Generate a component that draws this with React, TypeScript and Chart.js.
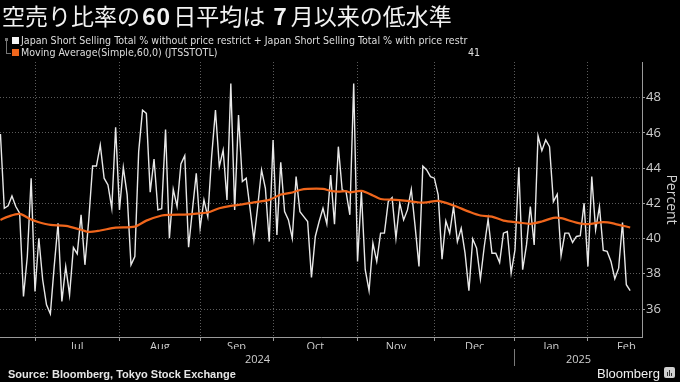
import React, { useEffect, useRef } from 'react';
import { Chart, registerables } from 'chart.js';

Chart.register(...registerables);

// ---- data (trading-day index based) ----
const shortRatio = [
  45.94, 41.72, 41.86, 42.42, 41.82, 41.44, 36.71, 38.98, 43.43, 37.0,
  40.02, 37.66, 36.24, 35.73, 38.42, 40.87, 36.43, 38.42, 36.8, 39.49,
  39.13, 41.35, 38.51, 41.06, 44.12, 44.12, 45.32, 43.43, 43.05, 41.72,
  46.32, 41.63, 44.05, 42.48, 38.51, 38.98, 44.94, 47.3, 47.11, 42.63,
  44.52, 41.63, 41.7, 46.2, 40.02, 42.8, 41.82, 44.24, 44.71, 39.51,
  41.63, 43.71, 40.59, 42.2, 41.25, 44.65, 47.3, 44.09, 45.03, 42.2,
  48.81, 41.63, 47.02, 43.24, 43.43, 41.72, 39.93, 41.82, 43.9, 42.86,
  39.83, 45.6, 40.21, 44.33, 41.53, 41.06, 40.02, 43.52, 41.53, 41.25,
  40.97, 37.79, 40.12, 40.97, 41.72, 40.84, 43.61, 40.82, 45.22, 42.76,
  42.67, 41.35, 48.81, 38.7, 42.67, 38.23, 37.04, 39.74, 38.7, 40.31,
  40.31, 42.1, 42.33, 40.02, 42.01, 41.06, 41.63, 42.8, 40.68, 38.42,
  44.12, 43.9, 43.52, 43.43, 42.48, 38.83, 41.0, 40.31, 41.82, 39.83,
  40.59, 39.17, 37.04, 39.98, 39.46, 37.72, 39.55, 41.1, 39.17, 39.17,
  38.64, 40.31, 40.4, 38.04, 39.36, 44.05, 38.23, 39.64, 41.82, 39.64,
  45.83, 44.99, 45.6, 45.22, 42.1, 42.52, 39.02, 40.31, 40.31, 39.78,
  40.12, 40.16, 42.01, 38.42, 43.52, 40.5, 41.82, 39.32, 39.27, 38.7,
  37.72, 38.32, 40.91, 37.38, 37.04,
];

const maIndex = [
  0, 2, 5, 8, 10, 13, 17, 21, 23, 26, 30, 35, 38, 42, 44, 49, 52, 54, 57, 60,
  62, 66, 70, 73, 76, 78, 80, 84, 86, 88, 90, 91, 94, 97, 99, 103, 106, 109, 111, 114,
  118, 122, 125, 128, 131, 135, 138, 141, 144, 146, 150, 153, 157, 160, 164,
];
const maValue = [
  41.06, 41.25, 41.4, 41.08, 40.93, 40.78, 40.72, 40.5, 40.38, 40.46, 40.62, 40.68, 41.02, 41.31, 41.35, 41.38, 41.44, 41.48, 41.72, 41.86,
  41.91, 42.06, 42.2, 42.5, 42.62, 42.76, 42.82, 42.82, 42.71, 42.67, 42.7, 42.63, 42.71, 42.45, 42.25, 42.2, 42.14, 42.05, 42.06, 42.14,
  41.88, 41.53, 41.31, 41.25, 41.02, 40.91, 40.84, 40.97, 41.18, 41.16, 40.91, 40.82, 40.93, 40.84, 40.63,
];

const monthStarts = [9, 31, 52, 71, 93, 113, 134, 153];
const monthEnd = 173;
const monthLabels = ['Jul', 'Aug', 'Sep', 'Oct', 'Nov', 'Dec', 'Jan', 'Feb'];
const yearLabels = ['2024', '2025'];
const yearBreak = 134;
const yTicks = [36, 38, 40, 42, 44, 46, 48];

const titleText1 = '空売り比率の';
const titleNum1 = '60';
const titleText2 = '日平均は';
const titleNum2 = '7';
const titleText3 = '月以来の低水準';
const legend1 = 'Japan Short Selling Total % without price restrict + Japan Short Selling Total % with price restr';
const legend2 = 'Moving Average(Simple,60,0) (JTSSTOTL)';
const legend2Last = '41';
const sourceText = 'Source: Bloomberg, Tokyo Stock Exchange';

// ---- styling ----
const X_MIN = -0.115;
const X_MAX = 167.08;
const Y_MIN = 34.41;
const Y_MAX = 50.03;
const WHITE = '#e8e8e8';
const ORANGE = '#f0661c';
const GRID = '#5c5c5c';
const AXIS = '#9a9a9a';
const LABEL = '#cfcfcf';
const AXFONT = "'Open Sans', 'Liberation Sans', sans-serif";
const NARROW = "'Liberation Sans Narrow', 'DejaVu Sans Condensed', 'Arial Narrow', 'Liberation Sans', sans-serif";

export default function App() {
  const ref = useRef<HTMLCanvasElement | null>(null);

  useEffect(() => {
    const canvas = ref.current;
    if (!canvas) return;
    const monthMids = monthStarts.map((s, i) => (s + (i + 1 < monthStarts.length ? monthStarts[i + 1] : monthEnd)) / 2);
    const yearPos = [(X_MIN + yearBreak) / 2, yearBreak, (yearBreak + X_MAX) / 2];

    const chart = new Chart(canvas, {
      type: 'line',
      data: {
        datasets: [
          {
            label: legend1,
            data: shortRatio.map((v, i) => ({ x: i, y: v })),
            borderColor: WHITE,
            borderWidth: 1.4,
            pointRadius: 0,
            tension: 0,
            order: 2,
          },
          {
            label: legend2,
            data: maIndex.map((x, i) => ({ x, y: maValue[i] })),
            borderColor: ORANGE,
            borderWidth: 2.2,
            pointRadius: 0,
            tension: 0.3,
            order: 1,
          },
        ],
      },
      options: {
        animation: false,
        responsive: false,
        maintainAspectRatio: false,
        layout: { padding: { top: 62, left: 0, right: 0, bottom: 13 } },
        plugins: {
          legend: { display: false },
          tooltip: { enabled: false },
          title: { display: false },
        },
        scales: {
          x: {
            type: 'linear',
            position: 'bottom',
            weight: 0,
            min: X_MIN,
            max: X_MAX,
            bounds: 'data',
            afterBuildTicks: (s: any) => {
              s.ticks = monthStarts.map((v) => ({ value: v }));
            },
            afterFit: (s: any) => {
              s.height = 4;
              s.paddingLeft = 0;
              s.paddingRight = 0;
            },
            ticks: { display: false },
            grid: {
              display: true,
              drawOnChartArea: true,
              drawTicks: true,
              tickLength: 4,
              color: GRID,
              tickColor: AXIS,
              lineWidth: 1,
            },
            border: { display: true, color: AXIS, width: 1, dash: [1, 2] },
          },
          xm: {
            type: 'linear',
            position: 'bottom',
            weight: 1,
            min: X_MIN,
            max: X_MAX,
            bounds: 'data',
            afterBuildTicks: (s: any) => {
              s.ticks = monthMids.map((v) => ({ value: v }));
            },
            afterFit: (s: any) => {
              s.height = 8;
              s.paddingLeft = 0;
              s.paddingRight = 0;
            },
            ticks: {
              autoSkip: false,
              maxRotation: 0,
              minRotation: 0,
              padding: -1,
              color: LABEL,
              font: { family: AXFONT, size: 11 },
              callback: (_v: any, i: number) => monthLabels[i],
            },
            grid: { display: false, drawTicks: false },
            border: { display: false },
          },
          xy: {
            type: 'linear',
            position: 'bottom',
            weight: 2,
            min: X_MIN,
            max: X_MAX,
            bounds: 'data',
            afterBuildTicks: (s: any) => {
              s.ticks = yearPos.map((v) => ({ value: v }));
            },
            afterFit: (s: any) => {
              s.height = 20;
              s.paddingLeft = 0;
              s.paddingRight = 0;
            },
            ticks: {
              autoSkip: false,
              maxRotation: 0,
              minRotation: 0,
              padding: -13,
              color: LABEL,
              font: { family: AXFONT, size: 11 },
              callback: (_v: any, i: number) => (i === 0 ? yearLabels[0] : i === 2 ? yearLabels[1] : ''),
            },
            grid: {
              display: true,
              drawOnChartArea: false,
              drawTicks: true,
              tickLength: 17,
              tickColor: (c: any) => (c.index === 1 ? '#7a7a7a' : 'rgba(0,0,0,0)'),
              color: 'rgba(0,0,0,0)',
            },
            border: { display: false },
          },
          y: {
            type: 'linear',
            position: 'right',
            min: Y_MIN,
            max: Y_MAX,
            bounds: 'data',
            afterBuildTicks: (s: any) => {
              s.ticks = yTicks.map((v) => ({ value: v }));
            },
            afterFit: (s: any) => {
              s.width = 38;
              s.paddingTop = 0;
              s.paddingBottom = 0;
            },
            ticks: {
              color: LABEL,
              padding: 1,
              font: { family: AXFONT, size: 13 },
              callback: (v: any) => String(v),
            },
            grid: {
              color: GRID,
              drawTicks: true,
              tickLength: 3,
              tickColor: AXIS,
              lineWidth: 1,
            },
            border: { display: true, color: AXIS, width: 1, dash: [1, 2] },
            title: {
              display: true,
              text: 'Percent',
              color: LABEL,
              font: { family: AXFONT, size: 14 },
              padding: { top: 1, bottom: 0 },
            },
          },
        },
      },
    } as any);
    return () => chart.destroy();
  }, []);

  const box = (color: string, top: number) => (
    <div style={{ position: 'absolute', left: 12, top, width: 7, height: 7, background: color }} />
  );

  return (
    <div style={{ position: 'fixed', left: 0, top: 0, width: 680, height: 382, background: '#000', overflow: 'hidden' }}>
      <canvas ref={ref} width={680} height={382} style={{ position: 'absolute', left: 0, top: 0, width: 680, height: 382 }} />
      <div
        style={{
          position: 'absolute', left: 2, top: 1, color: '#f2f2f2', whiteSpace: 'nowrap',
          fontFamily: "'Noto Sans CJK JP', 'Noto Sans', sans-serif", fontSize: 23, lineHeight: '29px',
        }}
      >
        {titleText1}
        <b style={{ margin: '0 2px 0 2px', letterSpacing: 1 }}>{titleNum1}</b>
        {titleText2}
        <b style={{ margin: '0 4px 0 8px' }}>{titleNum2}</b>
        {titleText3}
      </div>
      <div style={{ position: 'absolute', left: 5, top: 38, width: 3, height: 3, background: '#777' }} />
      <div style={{ position: 'absolute', left: 6, top: 41, width: 4, height: 12, borderLeft: '1px solid #777', borderBottom: '1px solid #777' }} />
      {box('#f5f5f5', 37)}
      {box(ORANGE, 49)}
      <div style={{ position: 'absolute', left: 21, top: 34, color: '#dedede', fontFamily: NARROW, fontSize: 10.6, lineHeight: '13px', whiteSpace: 'nowrap' }}>
        {legend1}
      </div>
      <div style={{ position: 'absolute', left: 21, top: 46, color: '#dedede', fontFamily: NARROW, fontSize: 10.6, lineHeight: '13px', whiteSpace: 'nowrap' }}>
        {legend2}
      </div>
      <div style={{ position: 'absolute', left: 468, top: 46, color: '#dedede', fontFamily: NARROW, fontSize: 10.6, lineHeight: '13px' }}>
        {legend2Last}
      </div>
      <div style={{ position: 'absolute', left: 8, top: 367, color: '#e6e6e6', fontFamily: "'Liberation Sans', 'DejaVu Sans', sans-serif", fontWeight: 700, fontSize: 11, lineHeight: '14px', whiteSpace: 'nowrap' }}>
        {sourceText}
      </div>
      <div style={{ position: 'absolute', left: 597, top: 366, color: '#f0f0f0', fontFamily: "'Liberation Sans', 'DejaVu Sans', sans-serif", fontSize: 13, lineHeight: '16px', whiteSpace: 'nowrap' }}>
        Bloomberg
      </div>
      <div style={{ position: 'absolute', left: 664, top: 367, width: 11, height: 11, background: '#cfcfcf', borderRadius: 2 }}>
        <div style={{ position: 'absolute', left: 3, top: 5, width: 1, height: 4, background: '#333' }} />
        <div style={{ position: 'absolute', left: 5, top: 3, width: 1, height: 6, background: '#333' }} />
        <div style={{ position: 'absolute', left: 7, top: 6, width: 1, height: 3, background: '#333' }} />
      </div>
    </div>
  );
}
